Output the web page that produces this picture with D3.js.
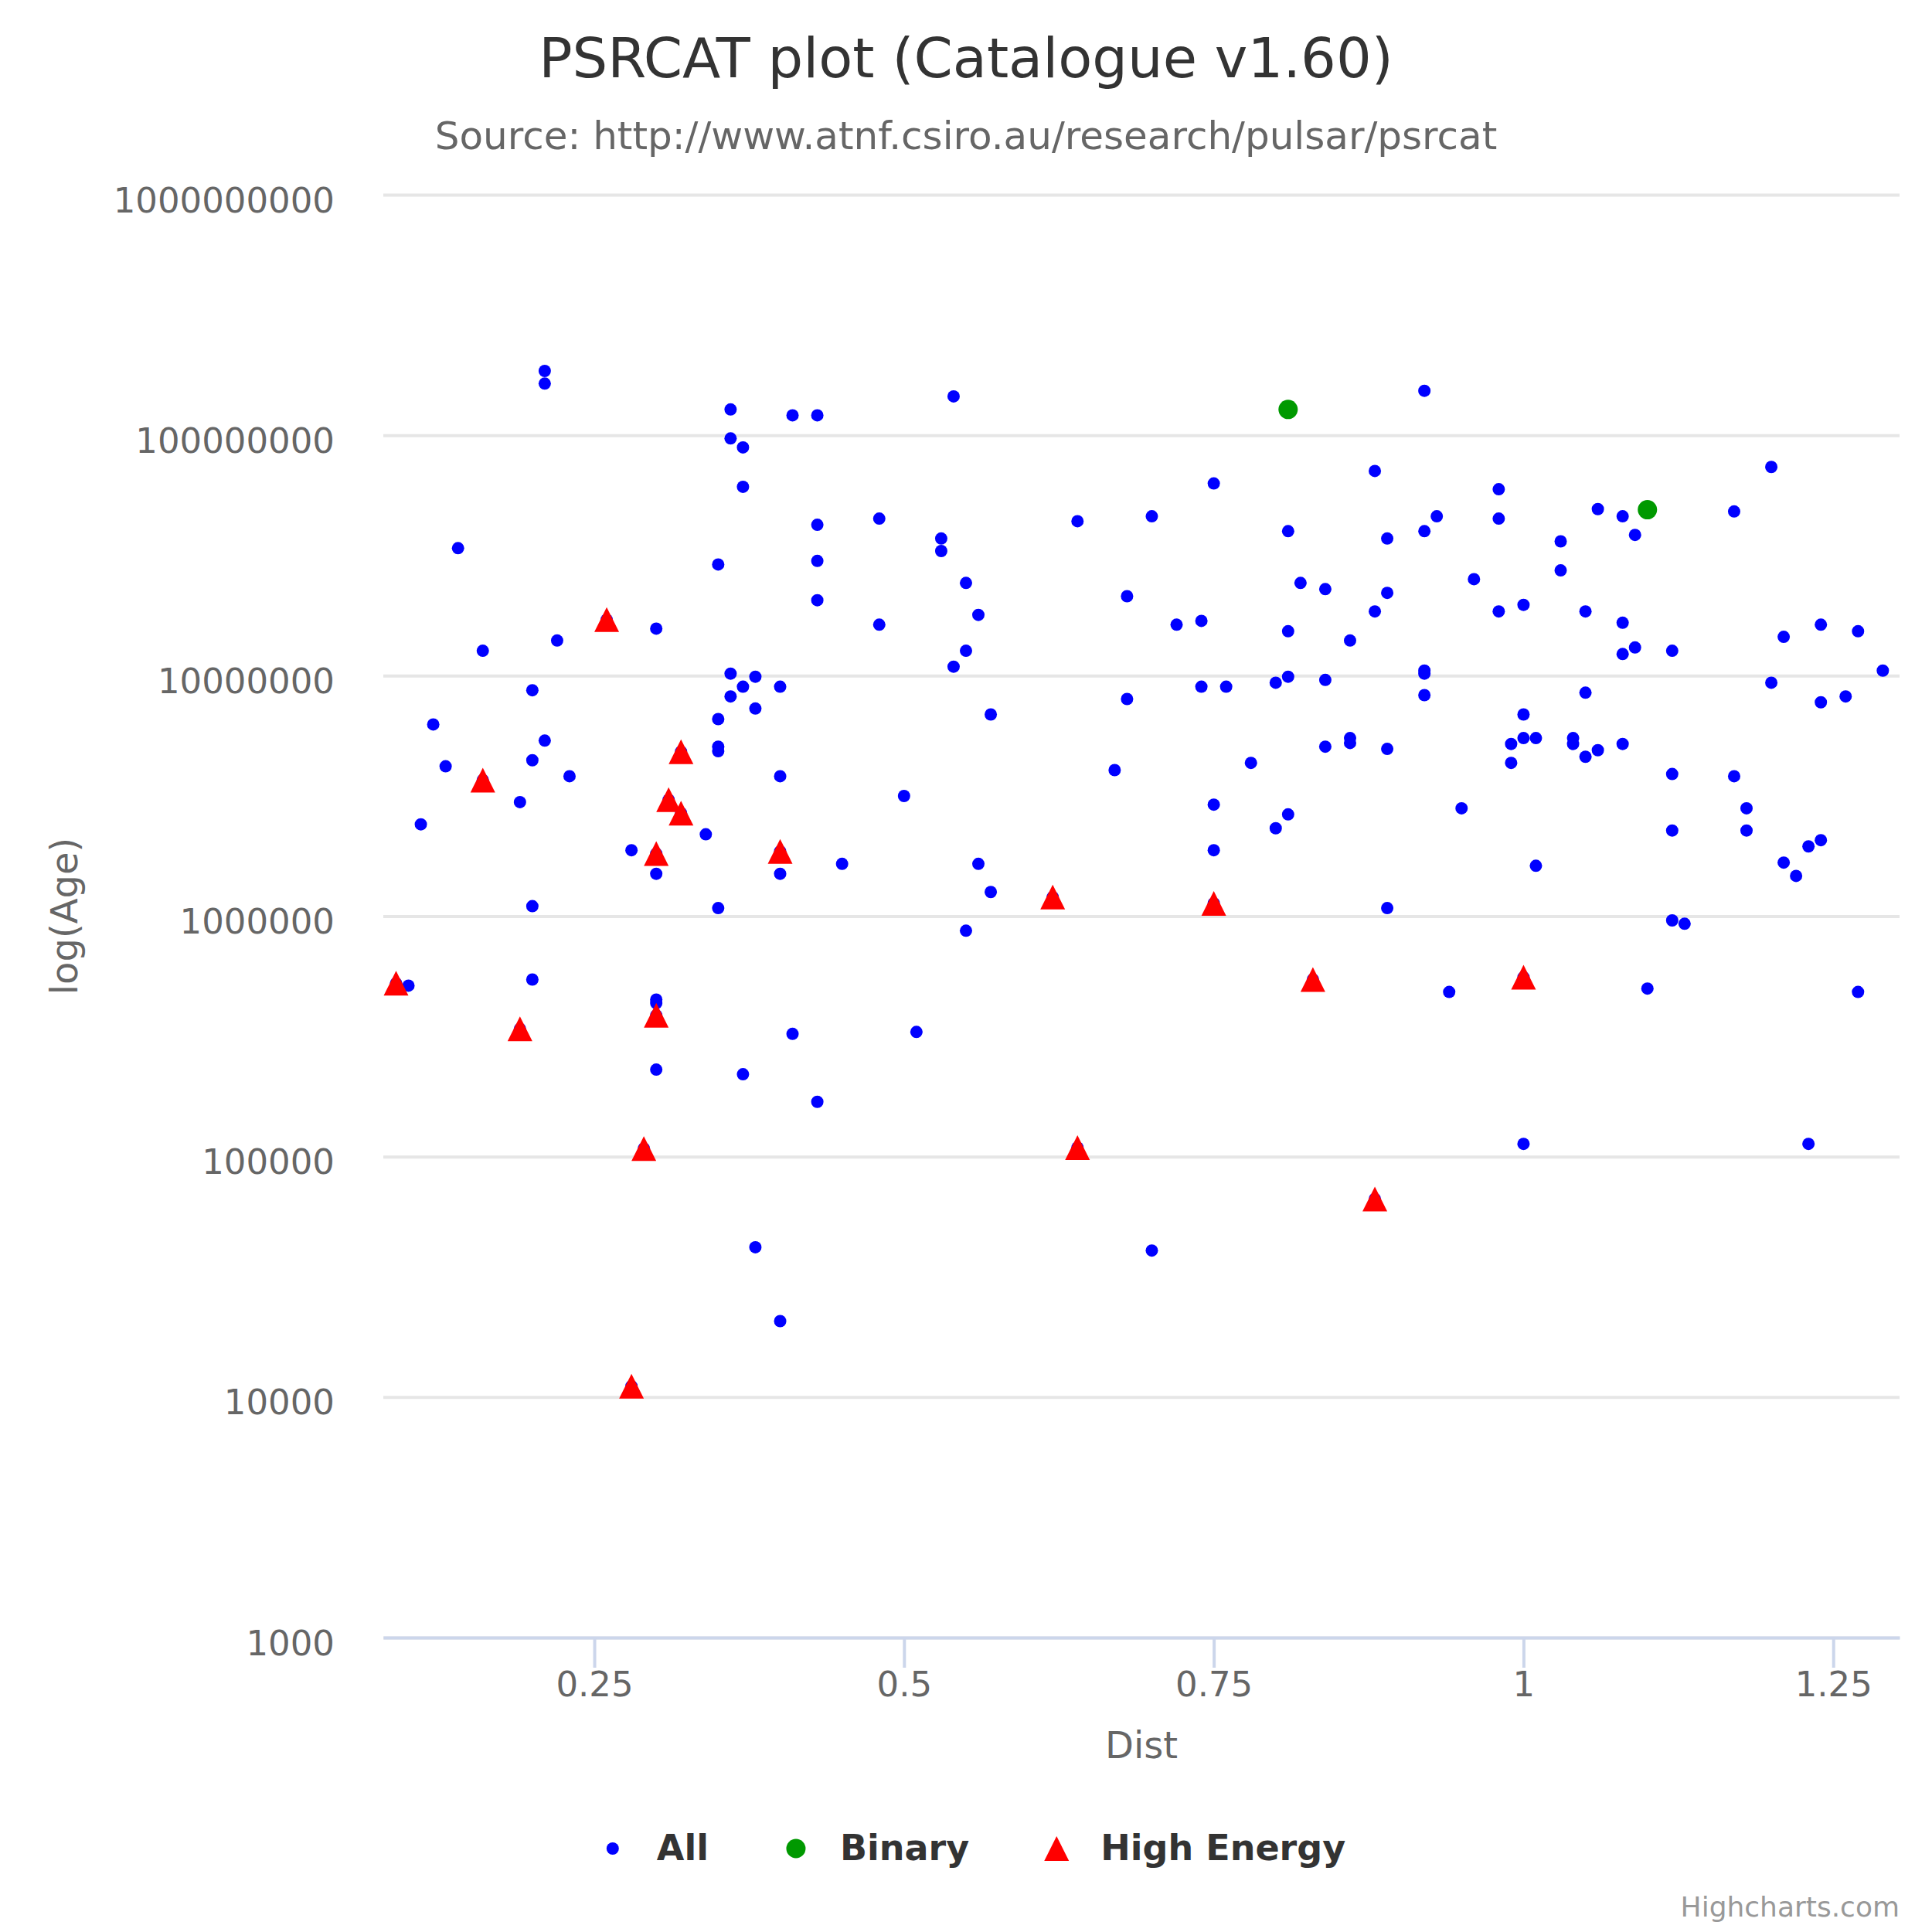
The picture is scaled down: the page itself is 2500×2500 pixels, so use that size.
<!DOCTYPE html>
<html>
<head>
<meta charset="utf-8">
<script src="https://cdn.jsdelivr.net/npm/d3@7"></script>
<style>
  body { margin: 0; background: #ffffff; }
  text { font-family: "DejaVu Sans", Verdana, sans-serif; }
</style>
</head>
<body>
<div id="chart"></div>
<script>
// [Dist, Age] pairs
const allPulsars = [
  [0.10, 514000], [0.11, 2410000], [0.12, 6270000], [0.13, 4200000], [0.14, 33900000],
  [0.16, 12700000], [0.19, 2980000], [0.20, 8700000], [0.20, 4450000], [0.20, 1100000],
  [0.20, 545000], [0.21, 185000000], [0.21, 164000000], [0.21, 5370000], [0.22, 14000000],
  [0.23, 3820000], [0.28, 1880000], [0.30, 15700000], [0.30, 1500000], [0.30, 450000],
  [0.30, 435000], [0.30, 230000], [0.34, 2190000], [0.35, 29000000], [0.35, 6600000],
  [0.35, 5070000], [0.35, 4850000], [0.35, 1080000], [0.36, 128000000], [0.36, 97000000],
  [0.36, 10200000], [0.36, 8200000], [0.37, 89000000], [0.37, 61000000], [0.37, 9000000],
  [0.37, 220000], [0.38, 9900000], [0.38, 7300000], [0.38, 42000], [0.40, 9000000],
  [0.40, 3820000], [0.40, 1500000], [0.40, 20700], [0.41, 121000000], [0.41, 324000],
  [0.43, 121000000], [0.43, 42400000], [0.43, 30000000], [0.43, 20600000], [0.43, 169000],
  [0.45, 1650000], [0.48, 45000000], [0.48, 16300000], [0.50, 3160000], [0.51, 330000],
  [0.53, 37200000], [0.53, 33000000], [0.54, 145000000], [0.54, 10900000], [0.55, 24300000],
  [0.55, 12700000], [0.55, 870000], [0.56, 17900000], [0.56, 1650000], [0.57, 6900000],
  [0.57, 1260000], [0.64, 43900000], [0.67, 4050000], [0.68, 21400000], [0.68, 8000000],
  [0.70, 46000000], [0.70, 40700], [0.72, 16300000], [0.74, 16900000], [0.74, 9000000],
  [0.75, 63000000], [0.75, 2910000], [0.75, 1880000], [0.76, 9000000], [0.78, 4340000],
  [0.80, 9350000], [0.80, 2320000], [0.81, 39900000], [0.81, 15300000], [0.81, 9900000],
  [0.81, 2650000], [0.82, 24300000], [0.84, 22900000], [0.84, 9600000], [0.84, 5070000],
  [0.86, 5500000], [0.86, 5250000], [0.86, 14000000], [0.88, 71000000], [0.88, 18500000],
  [0.89, 37200000], [0.89, 22100000], [0.89, 4960000], [0.89, 1080000], [0.92, 153000000],
  [0.92, 39900000], [0.92, 10500000], [0.92, 10200000], [0.92, 8300000], [0.93, 46000000],
  [0.94, 484000], [0.95, 2810000], [0.96, 25200000], [0.98, 59600000], [0.98, 45000000],
  [0.98, 18500000], [0.99, 5200000], [0.99, 4340000], [1.00, 19700000], [1.00, 6900000],
  [1.00, 5500000], [1.00, 113000], [1.01, 5500000], [1.01, 1620000], [1.03, 36200000],
  [1.03, 27400000], [1.04, 5500000], [1.04, 5200000], [1.05, 18500000], [1.05, 8500000],
  [1.05, 4600000], [1.06, 49300000], [1.06, 4900000], [1.08, 46000000], [1.08, 16600000],
  [1.08, 12300000], [1.08, 5200000], [1.09, 38500000], [1.09, 13100000], [1.10, 500000],
  [1.12, 12700000], [1.12, 3900000], [1.12, 2270000], [1.12, 960000], [1.13, 930000],
  [1.17, 48200000], [1.17, 3820000], [1.18, 2810000], [1.18, 2270000], [1.20, 73800000],
  [1.20, 9350000], [1.21, 14500000], [1.21, 1670000], [1.22, 1470000], [1.23, 1950000],
  [1.23, 113000], [1.24, 16300000], [1.24, 7750000], [1.24, 2070000], [1.26, 8200000],
  [1.27, 15300000], [1.27, 484000], [1.29, 10500000]
];

const binaryPulsars = [[0.81, 128000000], [1.10, 49000000]];

const highEnergyPulsars = [
  [0.09, 526000], [0.16, 3680000], [0.19, 340000], [0.26, 17100000], [0.28, 11100],
  [0.29, 108000], [0.30, 1820000], [0.30, 387000], [0.31, 3050000], [0.32, 4830000],
  [0.32, 2680000], [0.40, 1860000], [0.62, 1200000], [0.64, 109000], [0.75, 1130000],
  [0.83, 545000], [0.88, 66700], [1.00, 557000]
];

const xTicks = [0.25, 0.5, 0.75, 1, 1.25];
const yTicks = [1e3, 1e4, 1e5, 1e6, 1e7, 1e8, 1e9];
const xDomain = [0.0797, 1.3035];
const yDomain = [1e3, 1e9];

const width = 2500;
const height = 2500;
const plot = { left: 496, right: 2458, top: 252, bottom: 2119 };

const svg = d3.select("#chart").append("svg")
  .attr("width", width)
  .attr("height", height)
  .style("background", "#ffffff");

const x = d3.scaleLinear().domain(xDomain).range([plot.left, plot.right]);
const y = d3.scaleLog().domain(yDomain).range([plot.bottom, plot.top]);

// titles
svg.append("text")
  .attr("x", 1250).attr("y", 100)
  .attr("text-anchor", "middle")
  .attr("font-size", 72)
  .attr("fill", "#333333")
  .text("PSRCAT plot (Catalogue v1.60)");

svg.append("text")
  .attr("x", 1250).attr("y", 193)
  .attr("text-anchor", "middle")
  .attr("font-size", 50)
  .attr("fill", "#666666")
  .text("Source: http://www.atnf.csiro.au/research/pulsar/psrcat");

// grid + y labels
const yAxis = svg.append("g")
  .attr("transform", `translate(${plot.left},0)`)
  .call(d3.axisLeft(y).tickValues(yTicks).tickFormat(d3.format("d"))
    .tickSize(-(plot.right - plot.left)).tickPadding(63));
yAxis.select(".domain").remove();
yAxis.selectAll(".tick line").attr("stroke", "#e6e6e6").attr("stroke-width", 4);
yAxis.selectAll(".tick text")
  .attr("font-size", 45)
  .attr("fill", "#666666")
  .attr("dy", 22)
  .attr("font-family", "DejaVu Sans");

// x axis
const xAxis = svg.append("g")
  .attr("transform", `translate(0,${plot.bottom})`)
  .call(d3.axisBottom(x).tickValues(xTicks).tickFormat(d => String(d))
    .tickSizeInner(39).tickSizeOuter(0).tickPadding(5));
xAxis.select(".domain").attr("stroke", "#ccd6eb").attr("stroke-width", 4);
xAxis.selectAll(".tick line").attr("stroke", "#ccd6eb").attr("stroke-width", 4);
xAxis.selectAll(".tick text")
  .attr("font-size", 45)
  .attr("fill", "#666666")
  .attr("font-family", "DejaVu Sans");

svg.append("text")
  .attr("x", (plot.left + plot.right) / 2).attr("y", 2275)
  .attr("text-anchor", "middle")
  .attr("font-size", 48)
  .attr("fill", "#666666")
  .text("Dist");

svg.append("text")
  .attr("transform", `translate(100,${(plot.top + plot.bottom) / 2}) rotate(-90)`)
  .attr("text-anchor", "middle")
  .attr("font-size", 48)
  .attr("fill", "#666666")
  .text("log(Age)");

// markers
const triangle = r => `M0,${-r}L${r},${r}L${-r},${r}Z`;

const series = [
  { name: "All", color: "#0000ff", shape: "circle", r: 8,
    data: allPulsars.concat(binaryPulsars, highEnergyPulsars) },
  { name: "Binary", color: "#009900", shape: "circle", r: 12.5, data: binaryPulsars },
  { name: "High Energy", color: "#ff0000", shape: "triangle", r: 16, data: highEnergyPulsars }
];

series.forEach(s => {
  const g = svg.append("g").attr("class", "series");
  if (s.shape === "circle") {
    g.selectAll("circle").data(s.data).enter().append("circle")
      .attr("cx", d => x(d[0]))
      .attr("cy", d => y(d[1]))
      .attr("r", s.r)
      .attr("fill", s.color);
  } else {
    g.selectAll("path").data(s.data).enter().append("path")
      .attr("transform", d => `translate(${x(d[0])},${y(d[1])})`)
      .attr("d", triangle(s.r))
      .attr("fill", s.color);
  }
});

// legend
const legend = svg.append("g");
const symbolGap = 57;
const itemGap = 113;
let cursor = 0;
series.forEach(s => {
  const item = legend.append("g").attr("transform", `translate(${cursor},0)`);
  if (s.shape === "circle") {
    item.append("circle").attr("cx", 0).attr("cy", 0).attr("r", s.r).attr("fill", s.color);
  } else {
    item.append("path").attr("d", triangle(s.r)).attr("fill", s.color);
  }
  const t = item.append("text")
    .attr("x", symbolGap).attr("y", 15)
    .attr("font-size", 46)
    .attr("font-weight", "bold")
    .attr("fill", "#333333")
    .text(s.name);
  cursor += symbolGap + t.node().getComputedTextLength() + itemGap;
});
const legendWidth = cursor - itemGap + 8;
legend.attr("transform", `translate(${1263 - legendWidth / 2 + 8},2392)`);

svg.append("text")
  .attr("x", 2458).attr("y", 2480)
  .attr("text-anchor", "end")
  .attr("font-size", 36)
  .attr("fill", "#999999")
  .text("Highcharts.com");
</script>
</body>
</html>
